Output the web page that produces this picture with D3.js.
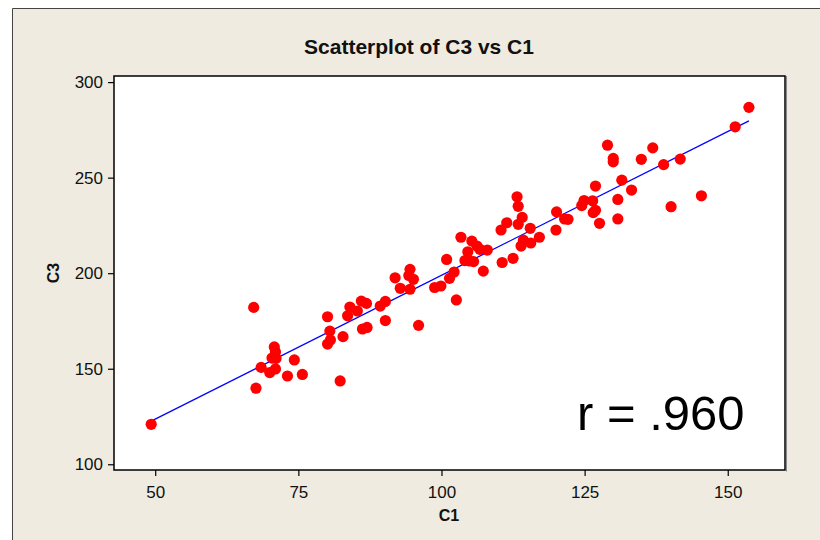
<!DOCTYPE html>
<html lang="en">
<head>
<meta charset="UTF-8">
<title>Scatterplot of C3 vs C1</title>
<script src="https://cdn.jsdelivr.net/npm/d3@7"></script>
<style>
  body { margin: 0; background: #fff; }
  text { font-family: "Liberation Sans", Arial, sans-serif; }
</style>
</head>
<body>
<svg id="chart" width="820" height="540"></svg>
<script>
// C1 (x) values
var c1 = [49.3, 67.2, 67.6, 68.5, 70.0, 71.0, 70.8, 71.0, 70.4, 71.1,
          73.1, 74.3, 75.7, 80.1, 80.5, 80.6, 80.1, 82.8, 82.3, 83.6,
          84.0, 85.3, 86.0, 86.9, 86.2, 87.0, 89.3, 90.2, 90.2, 91.9,
          92.8, 94.5, 94.3, 95.1, 94.5, 96.0, 98.8, 99.9, 100.9, 101.4,
          102.2, 102.6, 103.4, 104.6, 104.1, 104.9, 105.6, 105.3, 106.2, 106.7,
          108.0, 107.3, 110.6, 112.5, 110.4, 111.4, 113.2, 113.4, 114.1, 113.4,
          115.5, 114.3, 113.9, 115.6, 117.1, 120.1, 120.0, 121.5, 122.1, 124.5,
          124.9, 126.4, 126.5, 126.9, 127.6, 126.9, 129.0, 130.0, 130.0, 130.8,
          130.8, 131.5, 133.2, 134.9, 136.9, 138.8, 140.1, 141.7, 145.4, 151.3,
          153.7];
// C3 (y) values, same order
var c3 = [120.9, 182.1, 139.8, 150.7, 148.0, 149.9, 161.4, 158.8, 155.6, 155.4,
          146.2, 154.6, 147.0, 177.2, 169.7, 165.0, 162.9, 166.8, 143.6, 177.7,
          182.3, 180.2, 185.4, 184.2, 170.8, 171.6, 182.8, 185.2, 175.2, 197.6,
          192.1, 202.0, 198.8, 196.8, 191.6, 172.7, 192.5, 193.3, 207.2, 197.3,
          200.6, 186.0, 218.8, 211.2, 206.6, 206.4, 206.1, 216.8, 214.2, 212.5,
          212.1, 201.1, 205.6, 207.8, 222.6, 226.4, 240.0, 235.0, 229.2, 225.6,
          223.5, 217.3, 214.2, 215.8, 218.8, 232.1, 222.6, 228.4, 228.2, 235.4,
          238.0, 237.9, 231.7, 232.9, 226.1, 245.6, 267.0, 260.1, 258.3, 238.6,
          228.4, 248.7, 243.5, 259.6, 265.6, 256.8, 234.8, 259.7, 240.5, 276.6,
          286.8];

// fitted line C3 = fitIntercept + fitSlope * C1
var fitIntercept = 48.4;
var fitSlope = 1.505;

var xTicks = [50, 75, 100, 125, 150];
var yTicks = [100, 150, 200, 250, 300];
var rLabel = "r = .960";

var svg = d3.select("#chart");

// beige panel with the border on top and left
svg.append("rect").attr("x", 12).attr("y", 8).attr("width", 808).attr("height", 532)
   .attr("fill", "#efebe0");
svg.append("path").attr("d", "M12.5,540V8.5H820")
   .attr("fill", "none").attr("stroke", "#444").attr("stroke-width", 1);

var pLeft = 114, pRight = 785, pTop = 76, pBottom = 470;

var x = d3.scaleLinear().domain([42.8, 160.0]).range([pLeft, pRight]);
var y = d3.scaleLinear().domain([97.0, 303.2]).range([pBottom, pTop]);

// plot area
svg.append("rect").attr("x", pLeft).attr("y", pTop)
   .attr("width", pRight - pLeft).attr("height", pBottom - pTop)
   .attr("fill", "#fff").attr("stroke", "#000").attr("stroke-width", 1.5);
svg.append("line").attr("x1", pRight + 1.5).attr("x2", pRight + 1.5)
   .attr("y1", pTop).attr("y2", pBottom + 1.5)
   .attr("stroke", "#888").attr("stroke-width", 1);

var xAxis = svg.append("g").attr("transform", "translate(0," + pBottom + ")")
   .call(d3.axisBottom(x).tickValues(xTicks).tickSize(6).tickPadding(6));
var yAxis = svg.append("g").attr("transform", "translate(" + pLeft + ",0)")
   .call(d3.axisLeft(y).tickValues(yTicks).tickSize(6).tickPadding(5));

[xAxis, yAxis].forEach(function (g) {
  g.select(".domain").remove();
  g.selectAll(".tick line").attr("stroke", "#000").attr("stroke-width", 1.2);
  g.selectAll(".tick text").attr("font-size", 17).attr("fill", "#111")
   .style("font-family", "'Liberation Sans', Arial, sans-serif");
});
xAxis.selectAll(".tick text").attr("dy", "0.95em");

// fitted line
var xr = d3.extent(c1);
var fit = xr.map(function (v) { return [v, fitIntercept + fitSlope * v]; });
svg.append("path")
   .attr("d", d3.line().x(function (d) { return x(d[0]); }).y(function (d) { return y(d[1]); })(fit))
   .attr("fill", "none").attr("stroke", "#0000ff").attr("stroke-width", 1.3);

// points
svg.append("g").selectAll("circle")
   .data(c1.map(function (v, i) { return [v, c3[i]]; }))
   .enter().append("circle")
   .attr("cx", function (d) { return x(d[0]); })
   .attr("cy", function (d) { return y(d[1]); })
   .attr("r", 5.6)
   .attr("fill", "#ff0000");

// titles
svg.append("text").attr("x", 419).attr("y", 54).attr("text-anchor", "middle")
   .attr("font-size", 21).attr("font-weight", "bold").attr("fill", "#111")
   .text("Scatterplot of C3 vs C1");
svg.append("text").attr("x", 449).attr("y", 521).attr("text-anchor", "middle")
   .attr("font-size", 16).attr("font-weight", "bold").attr("fill", "#111")
   .text("C1");
svg.append("text").attr("transform", "translate(59,273) rotate(-90)")
   .attr("text-anchor", "middle")
   .attr("font-size", 16).attr("font-weight", "bold").attr("fill", "#111")
   .text("C3");

svg.append("text").attr("x", 577).attr("y", 430)
   .attr("font-size", 49).attr("fill", "#000")
   .text(rLabel);
</script>
</body>
</html>
